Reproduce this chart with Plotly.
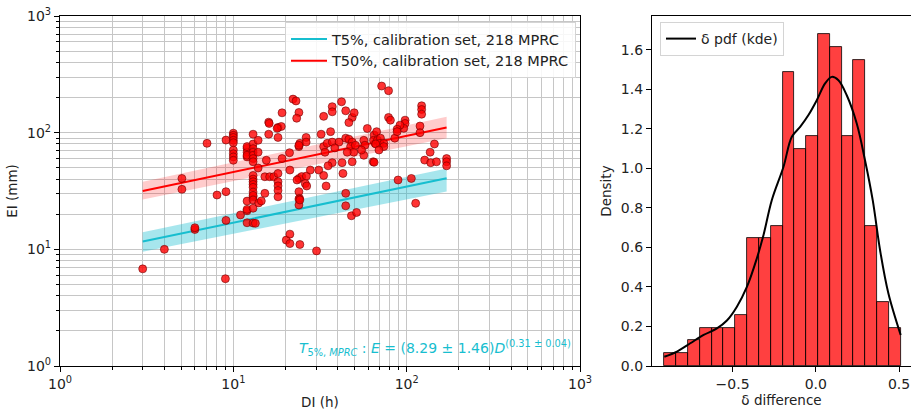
import numpy as np
import plotly.graph_objects as go

# ---------------- data: event duration vs. rainfall (MPRC calibration set) ----------------
dur_h = [
    3.0, 4.0, 5.05, 5.05, 6.0, 6.0, 7.05, 8.05, 9.0, 9.07, 9.07, 9.07,
    10, 10, 10, 10, 10, 10, 10, 10, 10,
    11,
    12, 12, 12, 12, 12, 12, 12, 12, 12,
    13, 13, 13, 13, 13, 13, 13, 13, 13, 13, 13, 13, 13, 13, 13, 13, 13, 13,
    13.4, 13.9, 13.9, 13.9, 14, 14.5,
    15.2, 16.2, 16, 16, 16.1, 15.2, 15.5,
    17.1, 18.1, 18.1, 18.1, 18.1, 18.1, 18.1, 18.9, 18.1, 19.1, 19.1, 17.9,
    20.2, 21.2, 21.2, 24.2, 30.2, 21.1, 21.2, 22.1, 23.0, 23.9, 23.2, 23.9, 24.2, 23.9,
    23.9, 24.8, 23.3, 23.9, 24.1, 23.9, 23.9, 24.2,
    26.3, 26.3, 26.4, 27.8, 26, 26.5, 31.1, 32.1, 33.2, 33.2, 34.3,
    33.2, 34.8, 33.8, 37.2, 37.2, 36.4, 37.2, 40.7, 38.5, 37.2, 35.2,
    42.1, 44.5, 48.5, 46.4, 49.8, 42.4, 44.5, 46.4, 48.5, 47.5, 49.5, 45.4, 50.6, 48.5,
    42.9, 44.5, 44.5, 48, 51.4,
    56.6, 57.4, 56.6, 54.9, 59.3, 64.9, 65.7, 64.1, 67.1, 64.4, 67.8, 70.6, 70.1, 73.8,
    73.8, 66.3, 69.2, 64.9,
    71.7, 78.6, 78.6, 80.6, 85.4, 97.9, 97.9, 96.2, 91.5, 88.1, 88.1, 89.2,
    106.4, 112.7, 119.4, 119.4, 122, 122, 122, 144.6, 136.6, 127, 137.6, 148.5, 170, 170, 170,
]
rain_mm = [
    6.8, 10.0, 40.5, 32.7, 14.8, 15.3, 81, 29.2, 5.6, 17.7, 31.2, 86.4,
    99, 95, 91, 86, 82, 71, 66, 62, 58,
    19.7,
    21.4, 22, 16.9, 25.9, 73.5, 68, 62, 76, 64,
    16.8, 22.5, 28.2, 97, 80, 73, 68, 64, 60, 56.3, 43, 40, 38, 36, 34, 31, 29, 26.5,
    16.7, 49.8, 68, 86, 25, 26,
    41.9, 41.9, 123, 97, 120, 30.2, 58,
    41.9, 44.7, 38, 35, 32, 28.2, 111, 113, 91, 148, 60, 109,
    12.0, 13.5, 11.2, 11.0, 9.7, 67.3, 47.8, 194, 187, 149, 133, 76, 81, 78,
    40.5, 42, 39.3, 31.2, 27.3, 27, 24, 26.5,
    91, 83, 42.5, 47.8, 36.6, 34.9, 47.8, 97, 138, 43, 34.9,
    76, 81, 68, 167, 151, 102, 83, 83, 74, 55.3, 52,
    184, 154, 135, 122, 148, 55.3, 89.7, 88, 83, 76, 68, 68, 78, 56.3,
    44.7, 30.2, 23.6, 19.4, 20.7,
    86, 78, 64, 71, 108.6, 95.6, 81, 56.3, 102, 86, 86, 89.7, 81, 81,
    76, 80, 71, 55.7,
    251, 229, 135, 128, 89.7, 128, 120, 109, 116, 107, 102, 39.3,
    40.5, 24.8, 114, 100, 170, 158, 144, 80, 68, 58.2, 55.3, 56.3, 60, 56.3, 52,
]

# power-law thresholds E = a * D^b
t5_a, t5_b = 8.29, 0.31
t50_a, t50_b = 22.5, 0.31
fit_d = [3, 170]
# uncertainty envelopes at the ends of the fitted range
t5_lo, t5_hi = [9.55, 31.3], [14.0, 49.3]
t50_lo, t50_hi = [26.8, 89.5], [38.0, 137.0]

# ---------------- data: delta difference histogram and KDE ----------------
bin_lo, bin_hi, n_bins = -0.91, 0.51, 20
bin_counts = [1, 1, 2, 3, 3, 3, 4, 10, 10, 11, 23, 17, 18, 26, 25, 18, 24, 11, 5, 3]
kde_x = [-0.91, -0.834, -0.754, -0.674, -0.594, -0.534, -0.474, -0.414, -0.354, -0.314,
         -0.264, -0.194, -0.144, -0.094, -0.044, 0.006, 0.056, 0.096, 0.136, 0.186,
         0.246, 0.296, 0.342, 0.386, 0.436, 0.51]
kde_y = [0.047, 0.073, 0.115, 0.157, 0.19, 0.23, 0.30, 0.40, 0.545, 0.663,
         0.84, 1.008, 1.16, 1.21, 1.27, 1.345, 1.43, 1.463, 1.446, 1.37,
         1.227, 1.04, 0.839, 0.587, 0.368, 0.157]

CYAN = "#17becf"
FONT = "DejaVu Sans"
GRID = "#c6c6c6"

fig = go.Figure()

# envelopes
for lo, hi, col in [(t5_lo, t5_hi, "rgba(23,190,207,0.38)"), (t50_lo, t50_hi, "rgba(255,0,0,0.2)")]:
    fig.add_trace(go.Scatter(
        x=fit_d + fit_d[::-1], y=lo + hi[::-1], fill="toself", fillcolor=col,
        mode="lines", line=dict(width=0), showlegend=False, hoverinfo="skip",
        xaxis="x", yaxis="y"))

dd = np.geomspace(fit_d[0], fit_d[1], 60)
fig.add_trace(go.Scatter(x=dd, y=t5_a * dd ** t5_b, mode="lines",
                         line=dict(color=CYAN, width=2),
                         name="T5%, calibration set, 218 MPRC", xaxis="x", yaxis="y"))
fig.add_trace(go.Scatter(x=dd, y=t50_a * dd ** t50_b, mode="lines",
                         line=dict(color="red", width=2),
                         name="T50%, calibration set, 218 MPRC", xaxis="x", yaxis="y"))

fig.add_trace(go.Scatter(
    x=dur_h, y=rain_mm, mode="markers", showlegend=False,
    marker=dict(size=8, color="rgba(255,0,0,0.8)",
                line=dict(color="rgba(110,0,0,0.85)", width=0.7)),
    xaxis="x", yaxis="y"))

# histogram (density) and KDE
edges = np.linspace(bin_lo, bin_hi, n_bins + 1)
width = edges[1] - edges[0]
centers = (edges[:-1] + edges[1:]) / 2
density = np.array(bin_counts) / (sum(bin_counts) * width)
fig.add_trace(go.Bar(x=centers, y=density, width=width,
                     marker=dict(color="rgba(255,0,0,0.75)",
                                 line=dict(color="black", width=0.8)),
                     showlegend=False, xaxis="x2", yaxis="y2"))
fig.add_trace(go.Scatter(x=kde_x, y=kde_y, mode="lines", line=dict(color="black", width=2),
                         name="δ pdf (kde)", legend="legend2", xaxis="x2", yaxis="y2",
                         line_shape="spline"))

minor_vals = [m * 10 ** k for k in range(3) for m in range(2, 10)]
log_ticks = [1, 10, 100, 1000]
log_text = ["10<sup>0</sup>", "10<sup>1</sup>", "10<sup>2</sup>", "10<sup>3</sup>"]

axis_common = dict(showline=True, linecolor="black", linewidth=1.2, mirror=True,
                   ticks="outside", ticklen=5, tickwidth=1, tickcolor="black",
                   tickfont=dict(family=FONT, size=14, color="#222"), zeroline=False)
title_font = dict(family=FONT, size=13.5, color="#222")

fig.update_layout(
    width=911, height=410, margin=dict(l=0, r=0, t=0, b=0),
    paper_bgcolor="white", plot_bgcolor="white",
    font=dict(family=FONT, size=13, color="#222"),
    bargap=0,
    xaxis=dict(domain=[60 / 911, 580 / 911], type="log", range=[0, 3],
               tickvals=log_ticks, ticktext=log_text,
               showgrid=True, gridcolor=GRID, gridwidth=1.3,
               minor=dict(tickvals=minor_vals, ticks="outside", ticklen=3,
                          tickcolor="black", showgrid=True, gridcolor=GRID, gridwidth=1.3),
               title=dict(text="DI (h)", font=title_font, standoff=6),
               anchor="y", automargin=False, **axis_common),
    yaxis=dict(domain=[1 - 366 / 410, 1 - 16 / 410], type="log", range=[0, 3],
               tickvals=log_ticks, ticktext=log_text,
               showgrid=True, gridcolor=GRID, gridwidth=1.3,
               minor=dict(tickvals=minor_vals, ticks="outside", ticklen=3,
                          tickcolor="black", showgrid=True, gridcolor=GRID, gridwidth=1.3),
               title=dict(text="EI (mm)", font=title_font, standoff=6),
               anchor="x", automargin=False, **axis_common),
    xaxis2=dict(domain=[652 / 911, 1.0], range=[-0.984, 0.572],
                tickvals=[-0.5, 0.0, 0.5], tickformat=".1f", showgrid=False,
                title=dict(text="δ difference", font=title_font, standoff=4),
                anchor="y2", automargin=False, **axis_common),
    yaxis2=dict(domain=[1 - 366 / 410, 1 - 16 / 410], range=[0, 1.771],
                tickvals=[0, 0.2, 0.4, 0.6, 0.8, 1.0, 1.2, 1.4, 1.6], tickformat=".1f",
                showgrid=False,
                title=dict(text="Density", font=title_font, standoff=6),
                anchor="x2", automargin=False, **axis_common),
    legend=dict(x=576 / 911, xanchor="right", y=1 - 22 / 410, yanchor="top",
                bgcolor="rgba(255,255,255,0.85)", bordercolor="#d4d4d4", borderwidth=1,
                font=dict(family=FONT, size=14.5, color="#222"), tracegroupgap=0,
                itemwidth=36),
    legend2=dict(x=660 / 911, xanchor="left", y=1 - 22 / 410, yanchor="top",
                 bgcolor="rgba(255,255,255,0.85)", bordercolor="#d4d4d4", borderwidth=1,
                 font=dict(family=FONT, size=14, color="#222")),
    showlegend=True,
)

fig.add_annotation(
    xref="paper", yref="paper", x=573 / 911, y=1 - 348 / 410, xanchor="right", yanchor="middle",
    showarrow=False,
    text=("<i>T</i><sub>5%, <i>MPRC</i></sub> : <i>E</i> = (8.29 ± 1.46)<i>D</i>"
          "<sup>(0.31 ± 0.04)</sup>"),
    font=dict(family=FONT, size=14, color=CYAN))

fig.write_html("out.html")
